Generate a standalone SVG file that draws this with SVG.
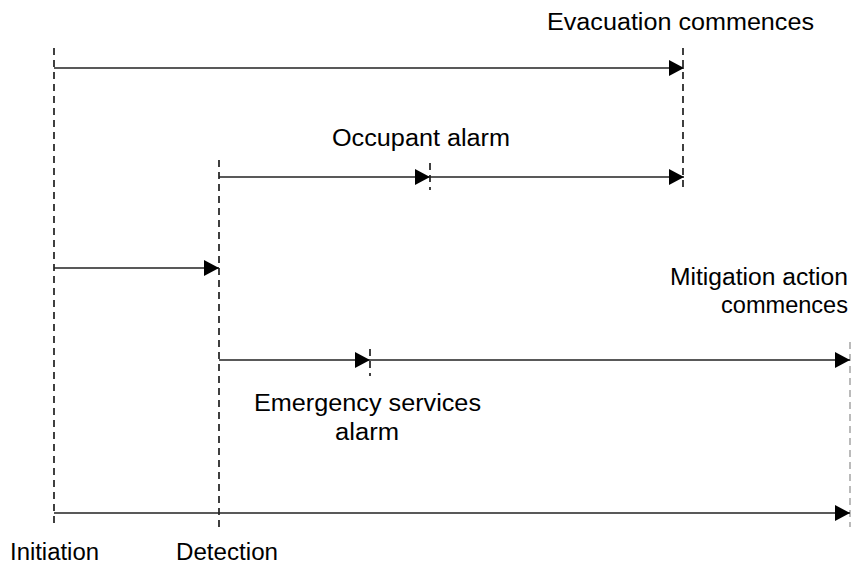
<svg xmlns="http://www.w3.org/2000/svg" width="851" height="564" viewBox="0 0 851 564">
<style>
.d{stroke:#111;stroke-width:1.6;stroke-dasharray:7,5;fill:none}
.g{stroke:#aaa;stroke-width:1.6;stroke-dasharray:7,5;fill:none}
.a{stroke:#222;stroke-width:1.5;fill:none;marker-end:url(#ah)}
text{font-family:"Liberation Sans",Arial,sans-serif;font-size:23px;fill:#000}
</style>
<defs>
<marker id="ah" markerUnits="userSpaceOnUse" markerWidth="16" markerHeight="18" refX="15" refY="8" orient="auto">
<path d="M0,0 L15,8 L0,16 Z" fill="#000"/>
</marker>
</defs>
<g id="timelines">
<line class="d" x1="54" y1="48" x2="54" y2="527"/>
<line class="d" x1="219" y1="160" x2="219" y2="527"/>
<line class="d" x1="683" y1="48" x2="683" y2="188"/>
<line class="d" x1="430" y1="163" x2="430" y2="190"/>
<line class="d" x1="370" y1="349" x2="370" y2="376"/>
<line class="g" x1="850" y1="342" x2="850" y2="527"/>
</g>
<g id="connectors">
<line class="a" x1="54" y1="68" x2="684" y2="68"/>
<line class="a" x1="219" y1="177" x2="430" y2="177"/>
<line class="a" x1="430" y1="177" x2="684" y2="177"/>
<line class="a" x1="54" y1="268" x2="219" y2="268"/>
<line class="a" x1="219" y1="360" x2="370" y2="360"/>
<line class="a" x1="370" y1="360" x2="850" y2="360"/>
<line class="a" x1="54" y1="513" x2="850" y2="513"/>
</g>
<g id="evacuation"><text x="547" y="30" textLength="267" lengthAdjust="spacingAndGlyphs">Evacuation commences</text></g>
<g id="occupant"><text x="332" y="146" textLength="178" lengthAdjust="spacingAndGlyphs">Occupant alarm</text></g>
<g id="mitigation"><text x="670" y="285" textLength="178" lengthAdjust="spacingAndGlyphs">Mitigation action</text><text x="721" y="313" textLength="127" lengthAdjust="spacingAndGlyphs">commences</text></g>
<g id="emergency"><text x="254" y="411" textLength="227" lengthAdjust="spacingAndGlyphs">Emergency services</text><text x="335" y="440" textLength="64" lengthAdjust="spacingAndGlyphs">alarm</text></g>
<g id="initiation"><text x="10" y="560" textLength="89" lengthAdjust="spacingAndGlyphs">Initiation</text></g>
<g id="detection"><text x="176" y="560" textLength="102" lengthAdjust="spacingAndGlyphs">Detection</text></g>
</svg>
